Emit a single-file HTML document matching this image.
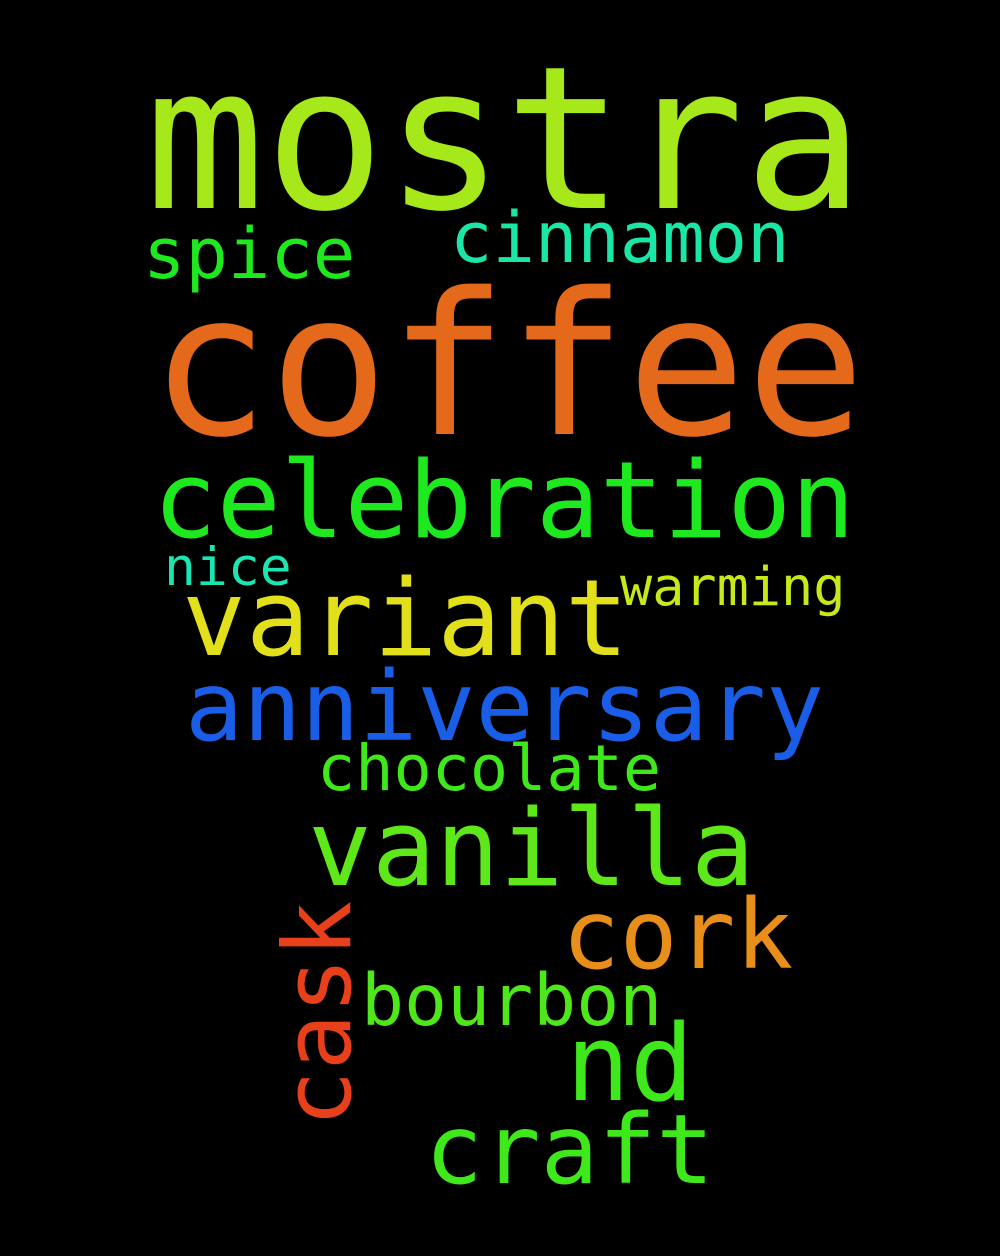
<!DOCTYPE html>
<html>
<head>
<meta charset="utf-8">
<style>
  html,body{margin:0;padding:0;background:#000;}
  svg{display:block;}
  text{font-family:"DejaVu Sans Mono","Liberation Mono",monospace;}
</style>
</head>
<body>
<svg width="1000" height="1256" viewBox="0 0 1000 1256">
  <rect width="1000" height="1256" fill="#000"/>
  <text x="145" y="208" font-size="199" fill="#a6e81a">mostra</text>
  <text x="150" y="434" font-size="198" fill="#e5691a">coffee</text>
  <text x="450" y="262" font-size="70.5" fill="#1ae6a6">cinnamon</text>
  <text x="143" y="278" font-size="70.5" fill="#1ee81e">spice</text>
  <text x="153" y="537" font-size="106" fill="#1ee81e">celebration</text>
  <text x="164" y="585" font-size="53" fill="#1ae6b4">nice</text>
  <text x="620" y="605" font-size="53.5" fill="#c8e81a">warming</text>
  <text x="182" y="655" font-size="106" fill="#e2e01a">variant</text>
  <text x="185" y="740" font-size="96.5" fill="#1a5ee8">anniversary</text>
  <text x="317" y="790" font-size="63.5" fill="#3ee81a">chocolate</text>
  <text x="308" y="885" font-size="106" fill="#5ee81a">vanilla</text>
  <text x="562" y="968" font-size="96" fill="#e88e1a">cork</text>
  <text x="361" y="1025" font-size="71.5" fill="#4ee81a">bourbon</text>
  <text x="566" y="1100" font-size="106" fill="#3ee81a">nd</text>
  <text x="425" y="1183" font-size="96" fill="#3ee81a">craft</text>
  <text transform="translate(350,1127) rotate(-90)" x="0" y="0" font-size="94" fill="#e8401a">cask</text>
</svg>
</body>
</html>
